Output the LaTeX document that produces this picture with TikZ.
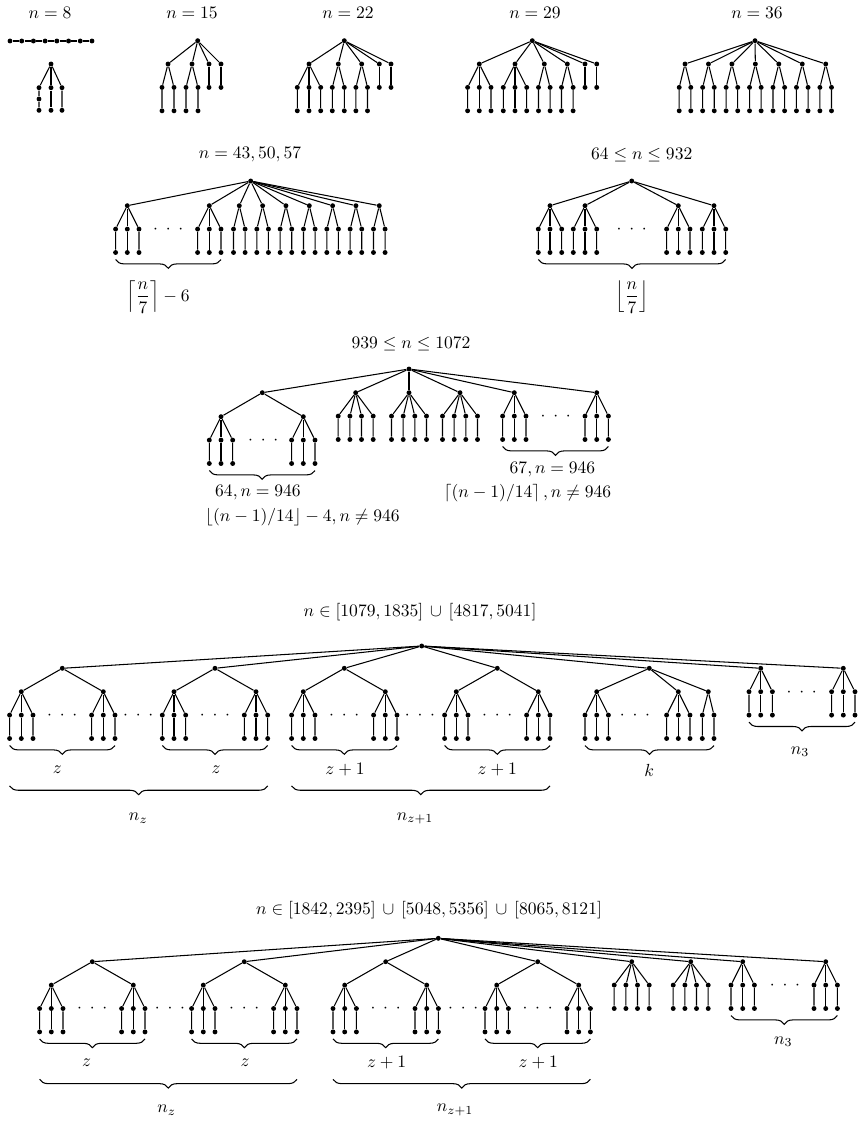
\documentclass[tikz,border=0pt]{standalone}
\usepackage{amsmath}
\usepackage{tikz}
\usetikzlibrary{decorations.pathreplacing}

\def\dy{23.4}
\newcommand{\threedots}{${\cdot}\;\,{\cdot}\;\,{\cdot}$}

% vertex with pendant paths of length 2
\newcommand{\spider}[4]{%
  \node[vertex] (#1) at ({#2},{#3}) {};
  \foreach \off [count=\nr] in {#4} {
    \node[vertex] (#1-\nr) at ({(#2)+(\off)},{(#3)+\dy}) {};
    \node[vertex] (#1-\nr-l) at ({(#2)+(\off)},{(#3)+2*\dy}) {};
    \draw[link] (#1) -- (#1-\nr) -- (#1-\nr-l);
  }%
}
% vertex with one pendant vertex
\newcommand{\leg}[3]{%
  \node[vertex] (#1) at ({#2},{#3}) {};
  \node[vertex] (#1-l) at ({#2},{(#3)+\dy}) {};
  \draw[link] (#1) -- (#1-l);
}
% vertex with two 3-spiders
\newcommand{\twospider}[3]{%
  \node[vertex] (#1) at ({#2},{#3}) {};
  \spider{#1a}{(#2)-41}{(#3)+\dy}{-11.7,0,11.7}
  \spider{#1b}{(#2)+41}{(#3)+\dy}{-11.7,0,11.7}
  \draw[link] (#1) -- (#1a);
  \draw[link] (#1) -- (#1b);
  \node[ellip] (#1-dots) at ({#2},{(#3)+2*\dy}) {\threedots};
}

\begin{document}
\begin{tikzpicture}[x=0.57pt,y=-0.57pt]

  \tikzset{vertex/.style = {shape=circle,fill,inner sep=0pt,minimum size=2.8pt}}
  \tikzset{link/.style = {line width=0.6pt}}
  \tikzset{ellip/.style = {anchor=base,yshift=-2.5pt,inner sep=0pt}}
  \tikzset{lbl/.style = {inner sep=0pt}}
  \tikzset{brace/.style = {decorate,decoration={brace,mirror,amplitude=5pt},line width=0.6pt}}
  \useasboundingbox (0,0) rectangle (862,1121);

  % titles
  \node[lbl] (t8) at (50,13) {$n=8$};
  \node[lbl] (t15) at (192,13) {$n=15$};
  \node[lbl] (t22) at (348,13) {$n=22$};
  \node[lbl] (t29) at (535,13) {$n=29$};
  \node[lbl] (t36) at (757,13) {$n=36$};
  \node[lbl] (t43) at (250,155) {$n=43,50,57$};
  \node[lbl] (t64) at (641.7,155) {$64\le n\le 932$};
  \node[lbl] (t939) at (411,344.3) {$939\le n\le 1072$};
  \node[lbl] (t1079) at (420,611.7) {$n\in[1079,1835]\,\cup\,[4817,5041]$};
  \node[lbl] (t1842) at (429,910) {$n\in[1842,2395]\,\cup\,[5048,5356]\,\cup\,[8065,8121]$};

  % n=8
  \foreach \j in {1,...,8}
    \node[vertex] (p\j) at ({10+(\j-1)*11.71},41) {};
  \draw[link] (p1) -- (p2) -- (p3) -- (p4) -- (p5) -- (p6) -- (p7) -- (p8);
  \node[vertex] (r8) at (51,64) {};
  \node[vertex] (r8a) at (39,87.7) {};
  \node[vertex] (r8a-m) at (39,99) {};
  \node[vertex] (r8a-l) at (39,110.3) {};
  \node[vertex] (r8b) at (51,87.7) {};
  \node[vertex] (r8b-l) at (51,110.3) {};
  \node[vertex] (r8c) at (62,87.7) {};
  \node[vertex] (r8c-l) at (62,110.3) {};
  \draw[link] (r8) -- (r8a) -- (r8a-m) -- (r8a-l);
  \draw[link] (r8) -- (r8b) -- (r8b-l);
  \draw[link] (r8) -- (r8c) -- (r8c-l);

  % n=15
  \node[vertex] (r15) at (197.7,40.7) {};
  \spider{r15a}{168}{64}{-6,6}
  \spider{r15b}{192}{64}{-6,6}
  \leg{r15c}{209}{64}
  \leg{r15d}{221}{64}
  \foreach \c in {a,b,c,d} \draw[link] (r15) -- (r15\c);

  % n=22
  \node[vertex] (r22) at (344.3,40.7) {};
  \spider{r22a}{309}{64}{-11.7,0,11.7}
  \spider{r22b}{338.3}{64}{-6,6}
  \spider{r22c}{361.7}{64}{-5.8,5.8}
  \leg{r22d}{379.3}{64}
  \leg{r22e}{391}{64}
  \foreach \c in {a,...,e} \draw[link] (r22) -- (r22\c);

  % n=29
  \node[vertex] (r29) at (532.3,40.7) {};
  \spider{r29a}{479.3}{64}{-11.7,0,11.7}
  \spider{r29b}{515}{64}{-11.7,0,11.7}
  \spider{r29c}{544.3}{64}{-5.8,5.8}
  \spider{r29d}{567.3}{64}{-5.8,5.8}
  \leg{r29e}{585}{64}
  \leg{r29f}{596.7}{64}
  \foreach \c in {a,...,f} \draw[link] (r29) -- (r29\c);

  % n=36
  \node[vertex] (r36) at (755,40.7) {};
  \foreach \j [count=\k] in {0,...,6} {
    \spider{r36s\k}{685+23.45*\j}{64}{-5.8,5.8}
    \draw[link] (r36) -- (r36s\k);
  }

  % n=43,50,57
  \node[vertex] (r43) at (250.7,181) {};
  \spider{r43a}{127.3}{205.7}{-11.7,0,11.7}
  \spider{r43b}{209.3}{205.7}{-11.7,0,11.7}
  \draw[link] (r43) -- (r43a);
  \draw[link] (r43) -- (r43b);
  \foreach \j [count=\k] in {0,...,6} {
    \spider{r43s\k}{239.3+23.33*\j}{205.7}{-5.8,5.8}
    \draw[link] (r43) -- (r43s\k);
  }
  \node[ellip] (r43-dots) at (168.3,229.1) {\threedots};
  \draw[brace] ([yshift=-4pt]r43a-1-l.center) -- ([yshift=-4pt]r43b-3-l.center);
  \node[lbl] (b43) at (158,297) {$\left\lceil\dfrac{n}{7}\right\rceil-6$};

  % 64 <= n <= 932
  \node[vertex] (r64) at (631.7,181) {};
  \spider{r64a}{550}{205.7}{-11.7,0,11.7}
  \spider{r64b}{585}{205.7}{-11.7,0,11.7}
  \spider{r64c}{678.3}{205.7}{-11.7,0,11.7}
  \spider{r64d}{714}{205.7}{-11.7,0,11.7}
  \foreach \c in {a,...,d} \draw[link] (r64) -- (r64\c);
  \node[ellip] (r64-dots) at (631.7,229.1) {\threedots};
  \draw[brace] ([yshift=-4pt]r64a-1-l.center) -- ([yshift=-4pt]r64d-3-l.center);
  \node[lbl] (b64) at (632,297) {$\left\lfloor\dfrac{n}{7}\right\rfloor$};

  % 939 <= n <= 1072
  \node[vertex] (r939) at (409,369) {};
  \node[vertex] (r939x) at (262.3,392.7) {};
  \spider{r939xa}{221}{416.7}{-11.7,0,11.7}
  \spider{r939xb}{303.3}{416.7}{-11.7,0,11.7}
  \draw[link] (r939x) -- (r939xa);
  \draw[link] (r939x) -- (r939xb);
  \node[ellip] (r939x-dots) at (263.3,440.1) {\threedots};
  \spider{r939a}{355.7}{392.7}{-17.5,-5.8,5.8,17.5}
  \spider{r939b}{409}{392.7}{-17.5,-5.8,5.8,17.5}
  \spider{r939c}{460}{392.7}{-17.5,-5.8,5.8,17.5}
  \spider{r939d}{514.3}{392.7}{-11.7,0,11.7}
  \spider{r939e}{596.7}{392.7}{-11.7,0,11.7}
  \node[ellip] (r939-dots) at (555.7,416.1) {\threedots};
  \foreach \c in {x,a,b,c,d,e} \draw[link] (r939) -- (r939\c);
  \draw[brace] ([yshift=-4pt]r939xa-1-l.center) -- ([yshift=-4pt]r939xb-3-l.center);
  \draw[brace] ([yshift=-4pt]r939d-1-l.center) -- ([yshift=-4pt]r939e-3-l.center);
  \node[lbl] (b939a) at (258,492.7) {$64, n=946$};
  \node[lbl] (b939b) at (302.5,516.7) {$\lfloor (n-1)/14\rfloor-4, n\neq 946$};
  \node[lbl] (b939c) at (552.5,470) {$67, n=946$};
  \node[lbl] (b939d) at (527.5,493.3) {$\left\lceil (n-1)/14\right\rceil, n\neq 946$};

  % n in [1079,1835] u [4817,5041]
  \node[vertex] (r4) at (421.7,646) {};
  \twospider{r4a}{62.3}{668.3}
  \twospider{r4b}{215}{668.3}
  \twospider{r4c}{344.3}{668.3}
  \twospider{r4d}{497.3}{668.3}
  \node[vertex] (r4k) at (649.3,668.3) {};
  \spider{r4ka}{596.7}{691.7}{-11.7,0,11.7}
  \spider{r4kb}{678.3}{691.7}{-11.7,0,11.7}
  \spider{r4kc}{708.3}{691.7}{-6,5.7}
  \foreach \c in {a,b,c} \draw[link] (r4k) -- (r4k\c);
  \node[ellip] (r4k-dots) at (635,715.1) {\threedots};
  \spider{r4m}{760.7}{668.3}{-11.7,0,11.7}
  \spider{r4n}{843.3}{668.3}{-11.7,0,11.7}
  \node[ellip] (r4m-dots) at (801.7,691.7) {\threedots};
  \node[ellip] (r4ab-dots) at (138.3,715.1) {\threedots};
  \node[ellip] (r4cd-dots) at (420,715.1) {\threedots};
  \foreach \c in {a,b,c,d,k,m,n} \draw[link] (r4) -- (r4\c);
  \draw[brace] ([yshift=-4pt]r4aa-1-l.center) -- ([yshift=-4pt]r4ab-3-l.center);
  \draw[brace] ([yshift=-4pt]r4ba-1-l.center) -- ([yshift=-4pt]r4bb-3-l.center);
  \draw[brace] ([yshift=-4pt]r4ca-1-l.center) -- ([yshift=-4pt]r4cb-3-l.center);
  \draw[brace] ([yshift=-4pt]r4da-1-l.center) -- ([yshift=-4pt]r4db-3-l.center);
  \draw[brace] ([yshift=-4pt]r4ka-1-l.center) -- ([yshift=-4pt]r4kc-2-l.center);
  \draw[brace] ([yshift=-4pt]r4m-1-l.center) -- ([yshift=-4pt]r4n-3-l.center);
  \draw[brace] ([yshift=-27pt]r4aa-1-l.center) -- ([yshift=-27pt]r4bb-3-l.center);
  \draw[brace] ([yshift=-27pt]r4ca-1-l.center) -- ([yshift=-27pt]r4db-3-l.center);
  \node[lbl] (z4a) at (57.3,770) {$z$};
  \node[lbl] (z4b) at (216,770) {$z$};
  \node[lbl] (z4c) at (345,770) {$z+1$};
  \node[lbl] (z4d) at (497.3,770) {$z+1$};
  \node[lbl] (k4) at (649.3,770) {$k$};
  \node[lbl] (m4) at (800,751.7) {$n_3$};
  \node[lbl] (nz4) at (138.3,818.3) {$n_z$};
  \node[lbl] (nzz4) at (415,818.3) {$n_{z+1}$};

  % n in [1842,2395] u [5048,5356] u [8065,8121]
  \node[vertex] (r5) at (438.3,938.3) {};
  \twospider{r5a}{92.3}{961.7}
  \twospider{r5b}{244.3}{961.7}
  \twospider{r5c}{385.7}{961.7}
  \twospider{r5d}{537.7}{961.7}
  \spider{r5e}{631.7}{961.7}{-17.5,-5.8,5.8,17.5}
  \spider{r5f}{690.7}{961.7}{-17.5,-5.8,5.8,17.5}
  \spider{r5m}{742.7}{961.7}{-11.7,0,11.7}
  \spider{r5n}{825.7}{961.7}{-11.7,0,11.7}
  \node[ellip] (r5m-dots) at (785,985.1) {\threedots};
  \node[ellip] (r5ab-dots) at (170,1008.5) {\threedots};
  \node[ellip] (r5cd-dots) at (463.3,1008.5) {\threedots};
  \foreach \c in {a,b,c,d,e,f,m,n} \draw[link] (r5) -- (r5\c);
  \draw[brace] ([yshift=-4pt]r5aa-1-l.center) -- ([yshift=-4pt]r5ab-3-l.center);
  \draw[brace] ([yshift=-4pt]r5ba-1-l.center) -- ([yshift=-4pt]r5bb-3-l.center);
  \draw[brace] ([yshift=-4pt]r5ca-1-l.center) -- ([yshift=-4pt]r5cb-3-l.center);
  \draw[brace] ([yshift=-4pt]r5da-1-l.center) -- ([yshift=-4pt]r5db-3-l.center);
  \draw[brace] ([yshift=-4pt]r5m-1-l.center) -- ([yshift=-4pt]r5n-3-l.center);
  \draw[brace] ([yshift=-27pt]r5aa-1-l.center) -- ([yshift=-27pt]r5bb-3-l.center);
  \draw[brace] ([yshift=-27pt]r5ca-1-l.center) -- ([yshift=-27pt]r5db-3-l.center);
  \node[lbl] (z5a) at (86.7,1062.7) {$z$};
  \node[lbl] (z5b) at (245,1062.7) {$z$};
  \node[lbl] (z5c) at (386.7,1062.7) {$z+1$};
  \node[lbl] (z5d) at (538.3,1062.7) {$z+1$};
  \node[lbl] (m5) at (783.3,1041.7) {$n_3$};
  \node[lbl] (nz5) at (166.7,1110) {$n_z$};
  \node[lbl] (nzz5) at (455,1110) {$n_{z+1}$};
\end{tikzpicture}
\end{document}
